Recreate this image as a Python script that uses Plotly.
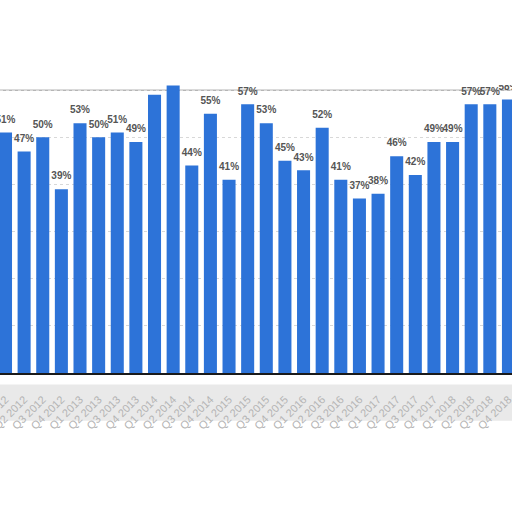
import plotly.graph_objects as go

# quarters Q1 2012 .. Q4 2018
quarters = [f"Q{q} {y}" for y in range(2012, 2019) for q in range(1, 5)]
shares = [51, 47, 50, 39, 53, 50, 51, 49, 59, 61, 44, 55, 41, 57,
          53, 45, 43, 52, 41, 37, 38, 46, 42, 49, 49, 57, 57, 58]
labels = [f"{v}%" for v in shares]

BLUE = "#2d73d8"

fig = go.Figure()
fig.add_trace(go.Bar(
    x=quarters,
    y=shares,
    marker=dict(color=BLUE, line=dict(width=0)),
    hoverinfo="skip",
))
# value labels: invisible markers push the text a little above the bar tops
fig.add_trace(go.Scatter(
    x=quarters,
    y=shares,
    mode="markers+text",
    text=labels,
    textposition="top center",
    marker=dict(size=10, opacity=0),
    textfont=dict(family="Liberation Sans", size=10, color="#555555", weight="bold"),
    cliponaxis=False,
    hoverinfo="skip",
))

# top edge of the cropped plot + mask above it
fig.add_shape(type="line", xref="paper", yref="y", x0=0, x1=1, y0=60, y1=60,
              line=dict(color="#b5b5b5", width=1.5), layer="below")
fig.add_shape(type="rect", xref="paper", yref="paper", x0=-0.1, x1=1.1, y0=0.8727, y1=1.2,
              fillcolor="white", line=dict(width=0), layer="above")
# blurry band behind the tick labels
fig.add_shape(type="rect", xref="paper", yref="paper", x0=-0.1, x1=1.1, y0=-0.145, y1=-0.035,
              fillcolor="#e9e9e9", line=dict(width=0), layer="below")

fig.update_layout(
    width=512, height=512,
    margin=dict(l=0, r=0, t=43, b=139, pad=0),
    paper_bgcolor="white", plot_bgcolor="white",
    bargap=0.3,
    showlegend=False,
    xaxis=dict(
        range=[-0.295, 27.19],
        automargin=False,
        tickangle=-45,
        ticklabelstandoff=14,
        tickfont=dict(family="Liberation Sans", size=11, color="#b4b4b4"),
        showline=True, linecolor="#1a1a1a", linewidth=1.5,
        showgrid=False, ticks="",
    ),
    yaxis=dict(
        range=[0, 70],
        dtick=10,
        automargin=False,
        showticklabels=False,
        gridcolor="#d8d8d8", griddash="dot", gridwidth=1,
        zeroline=False,
    ),
)

# drop the default page margin so the figure sits at the window corner
fig.write_html("out.html", config={"displayModeBar": False},
               post_script="document.body.style.margin='0';")
